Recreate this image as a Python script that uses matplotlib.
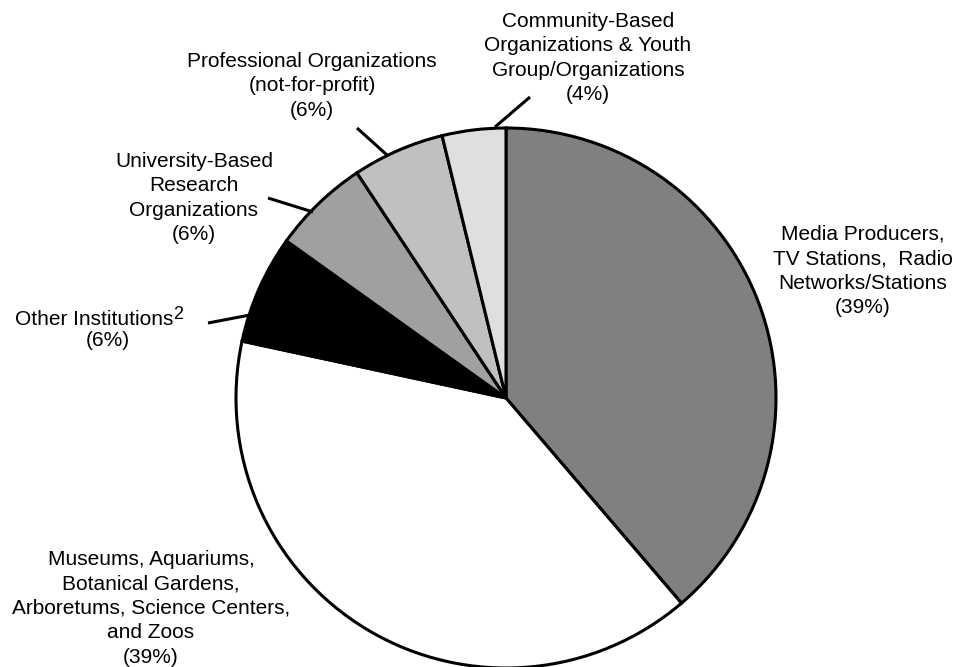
import matplotlib
matplotlib.use("Agg")
import matplotlib.pyplot as plt

plt.rcParams['font.family'] = ['Liberation Sans', 'DejaVu Sans']

# Data (shares, clockwise from 12 o'clock)
categories = [
    "Media Producers,\nTV Stations,  Radio\nNetworks/Stations",
    "Museums, Aquariums,\nBotanical Gardens,\nArboretums, Science Centers,\nand Zoos",
    "Other Institutions",
    "University-Based\nResearch\nOrganizations",
    "Professional Organizations\n(not-for-profit)",
    "Community-Based\nOrganizations & Youth\nGroup/Organizations",
]
shares = [38.7, 39.6, 6.5, 5.8, 5.5, 3.8]
pct_labels = ["(39%)", "(39%)", "(6%)", "(6%)", "(6%)", "(4%)"]
colors = ["#808080", "#ffffff", "#000000", "#a0a0a0", "#c0c0c0", "#dfdfdf"]

W, H = 959, 667
fig = plt.figure(figsize=(W / 100, H / 100), dpi=100)
ax = fig.add_axes([0, 0, 1, 1])

def Y(y):
    return H - y

cx, cy, r = 506, 398, 270
ax.pie(shares, colors=colors, startangle=90, counterclock=False,
       center=(cx, Y(cy)), radius=r,
       wedgeprops=dict(edgecolor="black", linewidth=2.2))
ax.set_xlim(0, W)
ax.set_ylim(0, H)
ax.set_aspect("equal")
ax.axis("off")

fs = 15
ls = 1.36

# label positions (center x, cap-top y) in pixels
label_pos = {
    0: (863, 225),
    1: (151, 550),
    3: (194, 152),
    4: (312, 52),
    5: (588, 12),
}
for i, (x, y) in label_pos.items():
    ax.text(x, Y(y), categories[i] + "\n" + pct_labels[i], ha="center", va="top",
            fontsize=fs, linespacing=ls, multialignment="center")

# Other Institutions with superscript
ax.text(173, Y(310), categories[2], ha="right", va="top", fontsize=fs)
ax.text(173.5, Y(306), "2", ha="left", va="top", fontsize=13)
ax.text(108, Y(331), pct_labels[2], ha="center", va="top", fontsize=fs)

# leader lines
leaders = [
    ((208, 323), (250, 315)),
    ((268, 198), (313, 212)),
    ((357, 128), (387, 155)),
    ((495, 127), (530, 97)),
]
for (x0, y0), (x1, y1) in leaders:
    ax.plot([x0, x1], [Y(y0), Y(y1)], color="black", lw=2.2, solid_capstyle="butt")

fig.savefig("out.png", dpi=100)
